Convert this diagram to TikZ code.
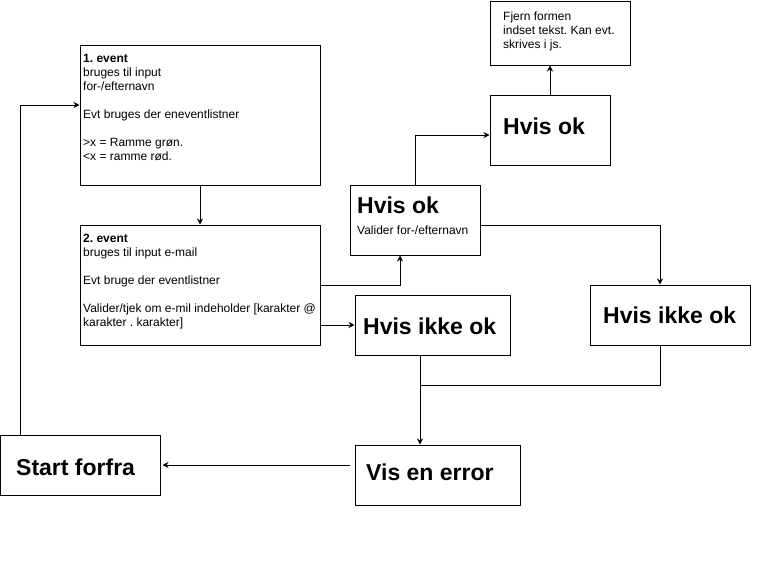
\documentclass[tikz,border=0pt]{standalone}
\usepackage{fontspec}
\setmainfont{Liberation Sans}
\frenchspacing
\usetikzlibrary{arrows.meta,calc,positioning}
\tikzset{%
	box/.style     = {draw, rectangle, line width=1pt, inner sep=0pt},
	txt/.style     = {align=left, inner sep=0pt, font=\fontsize{12}{14}\selectfont},
	heading/.style = {inner sep=0pt, font=\fontsize{23}{28}\selectfont\bfseries},
	line/.style    = {line width=1pt},
	arrow/.style   = {line width=1pt, -{Stealth[length=6pt,width=6pt]}},
}
\begin{document}
\begin{tikzpicture}[x=1pt,y=-1pt]
	\useasboundingbox (0,0) rectangle (781,571);
	% boxes
	\node[box, minimum width=240pt, minimum height=140pt] (ev1) at (200,115) {};
	\node[box, minimum width=240pt, minimum height=120pt] (ev2) at (200,285) {};
	\node[box, minimum width=130pt, minimum height=70pt] (okA) at (415,220) {};
	\node[box, minimum width=120pt, minimum height=70pt] (okB) at (550,130) {};
	\node[box, minimum width=140pt, minimum height=64pt] (fjern) at (560,33) {};
	\node[box, minimum width=155pt, minimum height=60pt] (ikkeA) at (432.5,325) {};
	\node[box, minimum width=160pt, minimum height=60pt] (ikkeB) at (670,315) {};
	\node[box, minimum width=165pt, minimum height=60pt] (vis) at (437.5,475) {};
	\node[box, minimum width=160pt, minimum height=60pt] (start) at (80,465) {};
	% texts
	\node[txt, anchor=north west] (ev1txt) at (83,54) {\textbf{1. event}\\bruges til input\\for-/efternavn\\[14pt]Evt bruges der eneventlistner\\[14pt]>x = Ramme grøn.\\<x = ramme rød.};
	\node[txt, anchor=north west] (ev2txt) at (83,234) {\textbf{2. event}\\bruges til input e-mail\\[14pt]Evt bruge der eventlistner\\[14pt]Valider/tjek om e-mil indeholder [karakter @\\karakter . karakter]};
	\node[txt, anchor=north west] (fjerntxt) at (503,12) {Fjern formen\\indset tekst. Kan evt.\\skrives i js.};
	\node[heading, anchor=base west] (okAtxt) at (357,213) {Hvis ok};
	\node[txt, anchor=base west] (validtxt) at (357,234) {Valider for-/efternavn};
	\node[heading, anchor=base west] (okBtxt) at (503,134) {Hvis ok};
	\node[heading, anchor=base west] (ikkeAtxt) at (363,334) {Hvis ikke ok};
	\node[heading, anchor=base west] (ikkeBtxt) at (603,323) {Hvis ikke ok};
	\node[heading, anchor=base west] (vistxt) at (366,480) {Vis en error};
	\node[heading, anchor=base west] (starttxt) at (16,475) {Start forfra};
	% connectors
	\coordinate (m) at (420,385);
	\draw[arrow] (ev1.south) -- (ev2.north);
	\draw[arrow] (ev2.east) -| ([xshift=-15pt]okA.south);
	\draw[arrow] ([yshift=-40pt]ev2.east) -- (ikkeA.west);
	\draw[arrow] (okA.north) |- ([yshift=-5pt]okB.west);
	\draw[arrow] (okB.north) -- (okB.north |- fjern.south);
	\draw[arrow] ([yshift=-5pt]okA.east) -| ([xshift=-10pt]ikkeB.north);
	\draw[line] ([xshift=-10pt]ikkeB.south) |- (m);
	\draw[arrow] (ikkeA.south -| m) -- (m |- vis.north);
	\draw[arrow] ([xshift=-5pt]vis.west |- start.east) -- ([xshift=2pt]start.east);
	\draw[arrow] ([xshift=-60pt]start.north) |- ([yshift=10pt]ev1.west);
\end{tikzpicture}
\end{document}
